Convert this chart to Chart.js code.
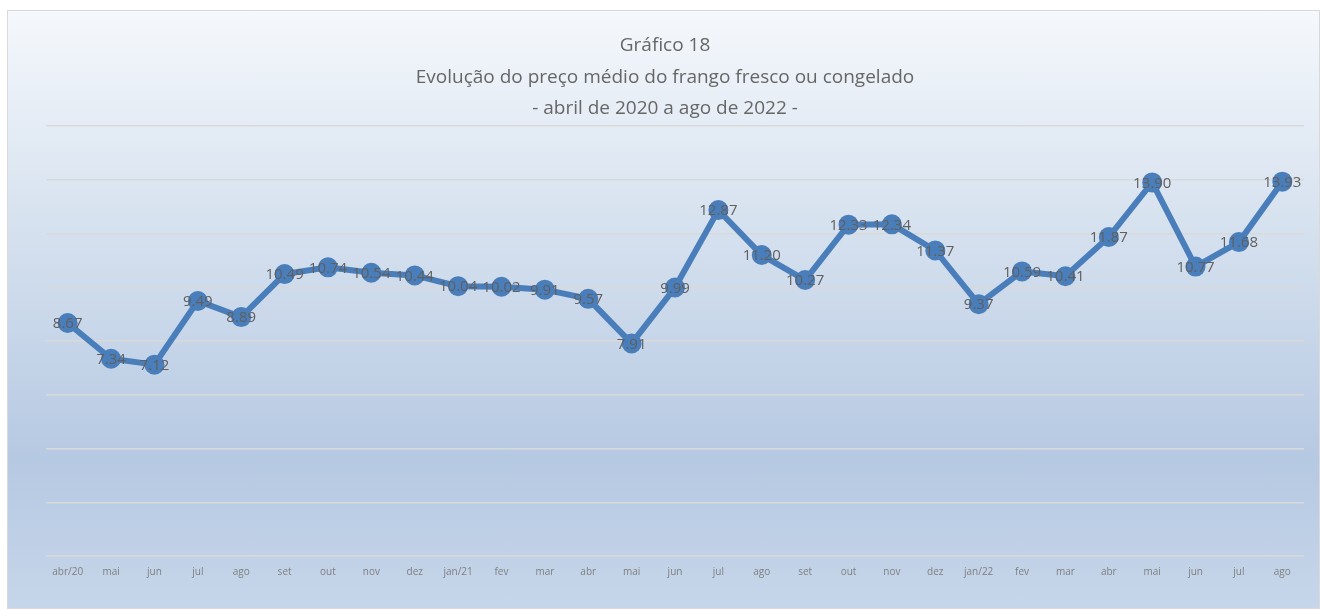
<!DOCTYPE html>
<html lang="pt">
<head>
    <meta charset="UTF-8">
    <title>Gráfico 18</title>
    <script src="https://cdn.jsdelivr.net/npm/chart.js"></script>
    <style>
        body {
            margin: 0;
            background: #fff;
            font-family: "Open Sans", sans-serif;
        }

        /* Chart frame with the blue gradient */
        .chart-box {
            position: absolute;
            left: 7px;
            top: 10px;
            width: 1311px;
            height: 597px;
            border: 1px solid #d9d9d9;
            background: linear-gradient(to bottom, #f5f8fc 0%, #dbe5f1 30%, #b6c9e2 75%, #c6d6ea 100%);
        }
    </style>
</head>
<body>

    <div class="chart-box">
        <canvas id="precoChart" width="1311" height="597"></canvas>
    </div>

<script>
const meses = ['abr/20', 'mai', 'jun', 'jul', 'ago', 'set', 'out', 'nov', 'dez', 'jan/21', 'fev', 'mar', 'abr', 'mai',
               'jun', 'jul', 'ago', 'set', 'out', 'nov', 'dez', 'jan/22', 'fev', 'mar', 'abr', 'mai', 'jun', 'jul', 'ago'];
const precos = [8.67, 7.34, 7.12, 9.49, 8.89, 10.49, 10.74, 10.54, 10.44, 10.04, 10.02, 9.91, 9.57, 7.91,
                9.99, 12.87, 11.20, 10.27, 12.33, 12.34, 11.37, 9.37, 10.59, 10.41, 11.87, 13.90, 10.77, 11.68, 13.93];
const titulo = ['Gráfico 18', 'Evolução do preço médio do frango fresco ou congelado', '- abril de 2020 a ago de 2022 -'];

// title drawn centred on the whole frame (the built-in one follows the padding)
const titleLines = {
  id: 'titleLines',
  afterDraw(chart) {
    const ctx = chart.ctx;
    ctx.save();
    ctx.font = '19px "Open Sans", sans-serif';
    ctx.fillStyle = '#666666';
    ctx.textAlign = 'center';
    ctx.textBaseline = 'middle';
    titulo.forEach((t, i) => ctx.fillText(t, 657, 35 + i * 31.5));
    ctx.restore();
  }
};

// value labels drawn centred on each point
const valueLabels = {
  id: 'valueLabels',
  afterDatasetsDraw(chart) {
    const ctx = chart.ctx;
    const meta = chart.getDatasetMeta(0);
    ctx.save();
    ctx.font = '15px "Open Sans", sans-serif';
    ctx.fillStyle = '#5f5f5f';
    ctx.textAlign = 'center';
    ctx.textBaseline = 'middle';
    meta.data.forEach((pt, i) => {
      ctx.fillText(precos[i].toFixed(2), pt.x, pt.y + 1);
    });
    ctx.restore();
  }
};

new Chart(document.getElementById('precoChart'), {
  type: 'line',
  data: {
    labels: meses,
    datasets: [{
      data: precos,
      borderColor: '#4a7ebb',
      backgroundColor: '#4a7ebb',
      borderWidth: 6,
      pointRadius: 7,
      pointHoverRadius: 7,
      tension: 0
    }]
  },
  options: {
    responsive: false,
    animation: false,
    layout: { padding: { left: 38, right: 15, top: 115, bottom: 28 } },
    scales: {
      x: {
        offset: true,
        grid: { display: false },
        border: { display: false },
        ticks: {
          color: '#7f7f7f',
          font: { size: 10, family: '"Open Sans", sans-serif' },
          padding: 2,
          maxRotation: 0,
          autoSkip: false
        }
      },
      y: {
        min: 0,
        max: 16,
        grid: { color: '#d9d9d9', lineWidth: 1.5, drawTicks: false },
        border: { display: false },
        ticks: { display: false, stepSize: 2 }
      }
    },
    plugins: {
      legend: { display: false },
      tooltip: { enabled: false },
      title: { display: false }
    }
  },
  plugins: [valueLabels, titleLines]
});
</script>

</body>
</html>
